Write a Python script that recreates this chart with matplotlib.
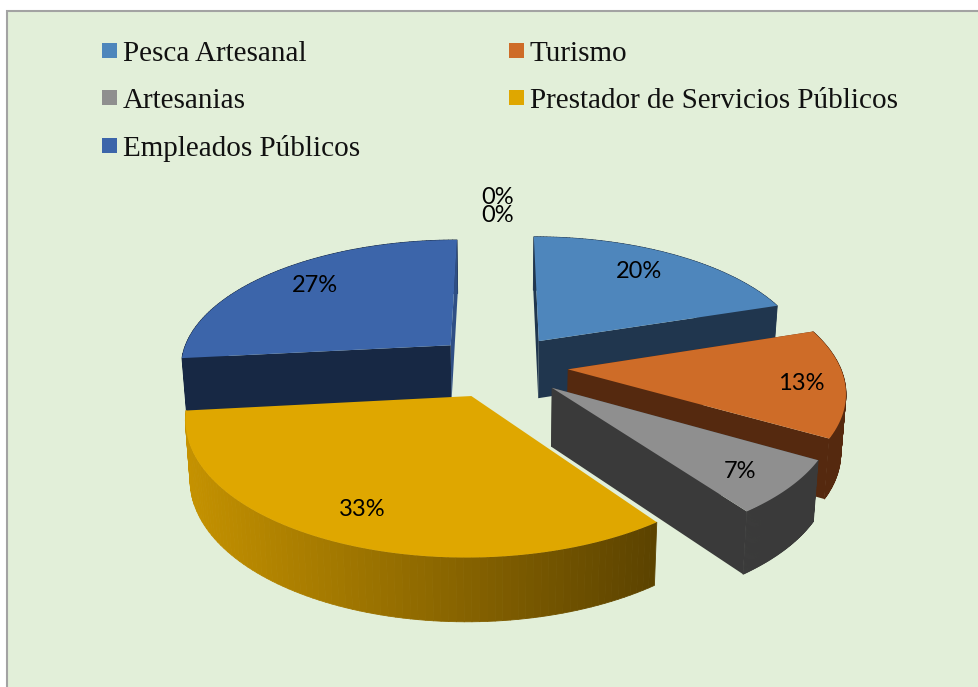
import numpy as np
import matplotlib
matplotlib.use('Agg')
import matplotlib.pyplot as plt
from matplotlib.collections import PolyCollection
from matplotlib.colors import to_rgb
from matplotlib.patches import Polygon, Rectangle

categories = ['Pesca Artesanal', 'Turismo', 'Artesanias', 'Prestador de Servicios Públicos',
              'Empleados Públicos', 'Otros 1', 'Otros 2']
counts = [3, 2, 1, 5, 4, 0, 0]

top_colors = ['#4E86BC', '#CE6C28', '#8F8F8F', '#DFA700', '#3C65AA']
face_colors = ['#20364E', '#55290F', '#3A3A3A', None, '#172844']
sliver_colors = ['#20364E', '#55290F', '#3A3A3A', None, '#2F4F85']
rim_left = ['#20364E', '#55290F', '#3A3A3A', '#C59200', '#172844']
rim_right = ['#20364E', '#55290F', '#3A3A3A', '#5C4300', '#172844']

label_pos = [(639, 272), (801, 384), (740, 472), (362, 510), (315, 286), (498, 198), (498, 215)]
legend_pos = [(102, 51), (509, 51), (102, 98), (509, 98), (102, 146)]

# projection of the tilted pie
CX, CY = 500, 366
AX_X, AX_Y = 272, 127
PERSP = 0.151
EXPLODE = 0.25
DEPTH = 58
BG = '#E2EFD9'


def project(X, Y):
    w = 1 + PERSP * Y
    return CX + AX_X * X / w, CY - AX_Y * Y / w, w


def lower(x, y, w):
    return CX + (x - CX) * 0.985, y + DEPTH / np.sqrt(w)


def mix(c1, c2, t):
    c1, c2 = np.array(to_rgb(c1)), np.array(to_rgb(c2))
    return tuple(c1 + (c2 - c1) * t)


def draw_slice(ax, start, end, i):
    mid = (start + end) / 2
    ox, oy = EXPLODE * np.sin(mid), EXPLODE * np.cos(mid)
    th = np.linspace(start, end, 90)
    x, y, w = project(ox + np.sin(th), oy + np.cos(th))
    ax0, ay0, aw = project(ox, oy)
    xb, yb = lower(x, y, w)
    axb, ayb = lower(ax0, ay0, aw)

    # outer rim, shaded from left to right
    quads, cols = [], []
    for k in range(len(th) - 1):
        quads.append([(x[k], y[k]), (x[k + 1], y[k + 1]), (xb[k + 1], yb[k + 1]), (xb[k], yb[k])])
        t = np.clip((x[k] - 185) / (657 - 185), 0, 1)
        cols.append(mix(rim_left[i], rim_right[i], t))
    ax.add_collection(PolyCollection(quads, facecolors=cols, edgecolors=cols, linewidths=0.6))

    # cut faces, the one at the slice end goes first; the big front slice hides its own
    if face_colors[i] is not None:
        ax.add_patch(Polygon([(ax0, ay0), (x[-1], y[-1]), (xb[-1], yb[-1]), (axb, ayb)],
                             fc=sliver_colors[i], ec='none'))
        ax.add_patch(Polygon([(ax0, ay0), (x[0], y[0]), (xb[0], yb[0]), (axb, ayb)],
                             fc=face_colors[i], ec='none'))

    ax.add_patch(Polygon(np.r_[[[ax0, ay0]], np.c_[x, y]], fc=top_colors[i], ec='none'))


fig = plt.figure(figsize=(9.79, 6.87), dpi=100)
ax = fig.add_axes([0, 0, 1, 1])
ax.set_xlim(0, 979)
ax.set_ylim(687, 0)
ax.axis('off')

ax.add_patch(Rectangle((7.5, 10.5), 990, 700, fc=BG, ec='#A3A3A3', lw=1.5))

fractions = np.array(counts) / sum(counts)
edges = np.r_[0, np.cumsum(fractions)] * 2 * np.pi

for i in [4, 0, 1, 2, 3]:
    draw_slice(ax, edges[i], edges[i + 1], i)

for frac, (lx, ly) in zip(fractions, label_pos):
    ax.text(lx, ly, '{:.0f}%'.format(frac * 100), ha='center', va='center',
            family='Lato', fontsize=17, color='black')

for name, color, (lx, ly) in zip(categories, top_colors, legend_pos):
    ax.add_patch(Rectangle((lx, ly - 8), 15, 15, fc=color, ec='none'))
    ax.text(lx + 21, ly + 3, name, ha='left', va='center',
            family='Liberation Serif', fontsize=21, color='#111111')

fig.savefig('out.png', dpi=100)
